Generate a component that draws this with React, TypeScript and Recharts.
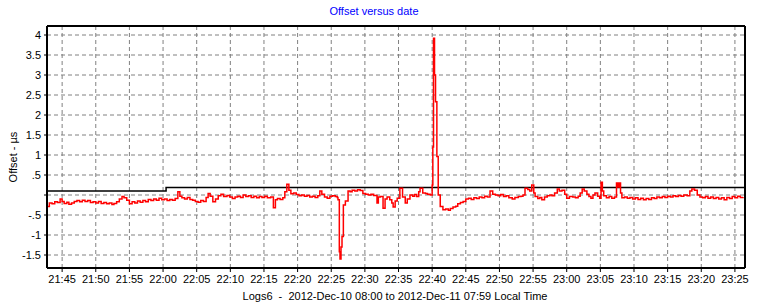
import { LineChart, Line, XAxis, YAxis, CartesianGrid, ReferenceLine } from "recharts";

// minutes after 21:45
const offsetTimes = [
  -2.2, -1.9, -1.5, -1.1, -0.7, -0.3, 0.0, 0.3, 0.7, 1.0, 1.4, 1.8, 2.2, 2.6, 3.0, 3.4, 3.8, 4.2, 4.6, 5.0,
  5.4, 5.8, 6.2, 6.6, 7.0, 7.4, 7.7, 8.1, 8.5, 8.9, 9.2, 9.6, 10.0, 10.4, 10.8, 11.2, 11.6, 12.0, 12.4, 12.8,
  13.2, 13.6, 14.0, 14.4, 14.8, 15.2, 15.6, 16.0, 16.4, 16.8, 17.2, 17.5, 17.8, 18.2, 18.6, 19.0, 19.4, 19.8, 20.2, 20.6,
  21.0, 21.4, 21.7, 22.0, 22.4, 22.8, 23.2, 23.6, 24.0, 24.5, 24.9, 25.3, 25.7, 26.1, 26.5, 26.9, 27.3, 27.7, 28.1, 28.5,
  28.9, 29.3, 29.7, 30.1, 30.5, 31.0, 31.4, 31.7, 32.0, 32.4, 32.8, 33.1, 33.4, 33.7, 34.0, 34.4, 34.8, 35.2, 35.6, 36.0,
  36.4, 36.8, 37.2, 37.6, 38.0, 38.3, 38.6, 39.0, 39.4, 39.8, 40.2, 40.6, 40.9, 41.0, 41.2, 41.3, 41.45, 41.6, 41.8, 42.1,
  42.5, 42.8, 43.1, 43.5, 43.9, 44.3, 44.7, 45.1, 45.5, 45.9, 46.3, 46.8, 47.0, 47.3, 47.7, 48.0, 48.3, 48.7, 49.0, 49.2,
  49.5, 49.8, 50.2, 50.6, 51.0, 51.3, 51.7, 52.1, 52.4, 52.7, 53.0, 53.2, 53.6, 54.0, 54.3, 54.7, 55.0, 55.1, 55.2, 55.35,
  55.5, 55.7, 55.9, 56.2, 56.6, 57.0, 57.4, 57.7, 58.1, 58.5, 58.8, 59.2, 59.6, 60.0, 60.4, 60.8, 61.2, 61.6, 62.0, 62.4,
  62.8, 63.2, 63.6, 64.0, 64.4, 64.8, 65.2, 65.6, 66.0, 66.4, 66.9, 67.3, 67.8, 68.2, 68.5, 68.8, 69.2, 69.5, 69.8, 70.1,
  70.3, 70.7, 71.0, 71.3, 71.7, 72.1, 72.5, 72.8, 73.2, 73.6, 73.9, 74.3, 74.7, 75.0, 75.4, 75.9, 76.3, 76.7, 77.0, 77.3,
  77.6, 78.0, 78.3, 78.6, 78.9, 79.2, 79.6, 79.9, 80.1, 80.3, 80.5, 80.9, 81.3, 81.7, 82.1, 82.4, 82.6, 82.8, 83.0, 83.2,
  83.6, 84.0, 84.4, 84.8, 85.2, 85.6, 86.0, 86.4, 86.8, 87.2, 87.6, 88.0, 88.4, 88.8, 89.2, 89.6, 90.0, 90.4, 90.8, 91.2,
  91.6, 92.0, 92.4, 92.9, 93.3, 93.6, 94.0, 94.4, 94.8, 95.2, 95.6, 96.0, 96.4, 96.8, 97.2, 97.6, 98.0, 98.4, 98.8, 99.2,
  99.6, 100.0, 100.4, 100.8, 101.2,
];

const offsetValues = [
  -0.29, -0.2, -0.22, -0.17, -0.19, -0.1, -0.16, -0.21, -0.18, -0.23, -0.2, -0.16, -0.14, -0.17, -0.13, -0.16, -0.14, -0.19, -0.17, -0.2,
  -0.16, -0.21, -0.19, -0.22, -0.2, -0.24, -0.21, -0.17, -0.1, -0.04, -0.07, -0.13, -0.22, -0.17, -0.2, -0.15, -0.18, -0.14, -0.17, -0.11,
  -0.14, -0.1, -0.13, -0.08, -0.12, -0.1, -0.14, -0.11, -0.13, -0.09, 0.08, -0.03, -0.07, -0.1, -0.06, -0.11, -0.13, -0.16, -0.18, -0.14,
  -0.16, -0.06, 0.04, -0.03, -0.17, -0.1, -0.02, 0.02, -0.04, -0.01, -0.05, -0.09, -0.05, -0.03, -0.06, 0.0, -0.04, -0.02, -0.06, -0.03,
  -0.07, -0.04, -0.06, -0.03, -0.07, -0.05, -0.32, -0.12, -0.09, -0.11, -0.07, 0.08, 0.27, 0.12, 0.03, 0.05, 0.01, -0.02, 0.0, -0.03,
  -0.01, -0.05, -0.03, -0.06, -0.02, 0.1, 0.02, -0.05, -0.08, -0.03, -0.02, -0.04, -0.06, -0.12, -1.42, -1.6, -1.3, -1.04, -0.25, -0.15,
  0.1, 0.08, 0.12, 0.1, 0.13, 0.11, 0.04, 0.02, 0.0, 0.02, -0.01, -0.2, -0.05, -0.04, -0.33, -0.1, -0.05, -0.12, -0.2, -0.3,
  -0.15, -0.08, 0.17, -0.05, -0.2, -0.1, 0.0, -0.03, 0.01, -0.04, 0.08, 0.17, 0.05, 0.04, 0.02, 0.0, 0.25, 1.2, 3.92, 3.0,
  2.33, 0.96, 0.0, -0.29, -0.37, -0.35, -0.38, -0.34, -0.3, -0.28, -0.22, -0.19, -0.16, -0.1, -0.08, -0.11, -0.07, -0.09, -0.05, -0.07,
  -0.03, -0.05, 0.1, 0.02, 0.0, -0.02, 0.01, -0.04, -0.02, -0.07, -0.1, -0.06, -0.04, -0.03, 0.0, 0.17, 0.14, 0.1, 0.25, 0.05,
  -0.04, -0.09, -0.06, -0.12, -0.05, -0.02, 0.0, -0.02, 0.05, 0.15, 0.1, 0.12, 0.02, -0.08, -0.04, -0.05, -0.07, -0.03, 0.05, 0.15,
  0.1, 0.02, -0.04, -0.08, 0.0, 0.05, -0.03, -0.08, 0.32, 0.1, -0.02, -0.07, -0.04, -0.08, -0.05, 0.3, 0.2, 0.3, 0.05, -0.07,
  -0.05, -0.08, -0.06, -0.1, -0.07, -0.11, -0.08, -0.12, -0.09, -0.11, -0.07, -0.09, -0.05, -0.07, -0.04, -0.06, -0.03, -0.05, -0.02, -0.04,
  -0.01, -0.03, 0.0, -0.02, 0.1, 0.15, 0.12, 0.0, -0.05, -0.07, -0.04, -0.08, -0.05, -0.09, -0.06, -0.1, -0.07, -0.12, -0.06, -0.09,
  -0.04, -0.07, -0.03, -0.06, -0.05,
];

const limitTimes = [-2.25, 15.45, 101.5];
const limitValues = [0.1, 0.19, 0.19];

const xTicks = [0, 5, 10, 15, 20, 25, 30, 35, 40, 45, 50, 55, 60, 65, 70, 75, 80, 85, 90, 95, 100];
const xTickLabels = [
  "21:45", "21:50", "21:55", "22:00", "22:05", "22:10", "22:15", "22:20", "22:25", "22:30", "22:35",
  "22:40", "22:45", "22:50", "22:55", "23:00", "23:05", "23:10", "23:15", "23:20", "23:25",
];
const yTicks = [-1.5, -1, -0.5, 0, 0.5, 1, 1.5, 2, 2.5, 3, 3.5, 4];
const yTickLabels = ["-1.5", "-1", "-.5", "", ".5", "1", "1.5", "2", "2.5", "3", "3.5", "4"];

const X_MIN = -2.25;
const X_MAX = 101.5;
const Y_MIN = -1.825;
const Y_MAX = 4.225;

const offsetData = offsetTimes.map((t, i) => ({ t, v: offsetValues[i] }));
const limitData = limitTimes.map((t, i) => ({ t, v: limitValues[i] }));

const font = "'Liberation Sans', Arial, sans-serif";
const tickStyle = { fontSize: 11, fontFamily: font, fill: "#000" };

export default function App() {
  return (
    <div style={{ position: "absolute", left: 0, top: 0, width: 766, height: 307, background: "#fff" }}>
      <div
        style={{
          position: "absolute", top: 5, left: 0, width: 748, textAlign: "center",
          fontFamily: font, fontSize: 11, color: "#0000ff",
        }}
      >
        Offset versus date
      </div>
      <div
        style={{
          position: "absolute", top: 290, left: 0, width: 790, textAlign: "center",
          fontFamily: font, fontSize: 11, color: "#000", whiteSpace: "pre",
        }}
      >
        {"Logs6  -  2012-Dec-10 08:00 to 2012-Dec-11 07:59 Local Time"}
      </div>
      <div
        style={{
          position: "absolute", left: 13, top: 157, transform: "translate(-50%, -50%) rotate(-90deg)",
          fontFamily: font, fontSize: 11, color: "#000", whiteSpace: "nowrap",
        }}
      >
        Offset - µs
      </div>
      <LineChart
        width={766}
        height={307}
        margin={{ top: 26, right: 21, left: 0, bottom: 0 }}
        style={{ position: "absolute", left: 0, top: 0 }}
      >
        <CartesianGrid stroke="#808080" strokeDasharray="4 3" vertical horizontal />
        <XAxis
          type="number"
          dataKey="t"
          domain={[X_MIN, X_MAX]}
          ticks={xTicks}
          tickFormatter={(v: number) => xTickLabels[xTicks.indexOf(v)] ?? ""}
          allowDataOverflow
          height={39}
          tick={tickStyle}
          tickSize={4}
          tickMargin={3}
          axisLine={{ stroke: "#000", strokeWidth: 2 }}
          tickLine={{ stroke: "#000" }}
          interval={0}
        />
        <YAxis
          type="number"
          domain={[Y_MIN, Y_MAX]}
          ticks={yTicks}
          tickFormatter={(v: number) => yTickLabels[yTicks.indexOf(v)] ?? ""}
          allowDataOverflow
          width={47}
          tick={tickStyle}
          tickSize={3}
          tickMargin={3}
          axisLine={{ stroke: "#000", strokeWidth: 2 }}
          tickLine={{ stroke: "#000" }}
          interval={0}
        />
        <ReferenceLine y={Y_MAX} stroke="#000" strokeWidth={2} />
        <ReferenceLine x={X_MAX} stroke="#000" strokeWidth={2} />
        <Line
          data={limitData}
          dataKey="v"
          type="stepAfter"
          stroke="#000"
          strokeWidth={1.5}
          dot={false}
          isAnimationActive={false}
        />
        <Line
          data={offsetData}
          dataKey="v"
          type="stepAfter"
          stroke="#ff0000"
          strokeWidth={1.5}
          dot={false}
          isAnimationActive={false}
        />
      </LineChart>
    </div>
  );
}
